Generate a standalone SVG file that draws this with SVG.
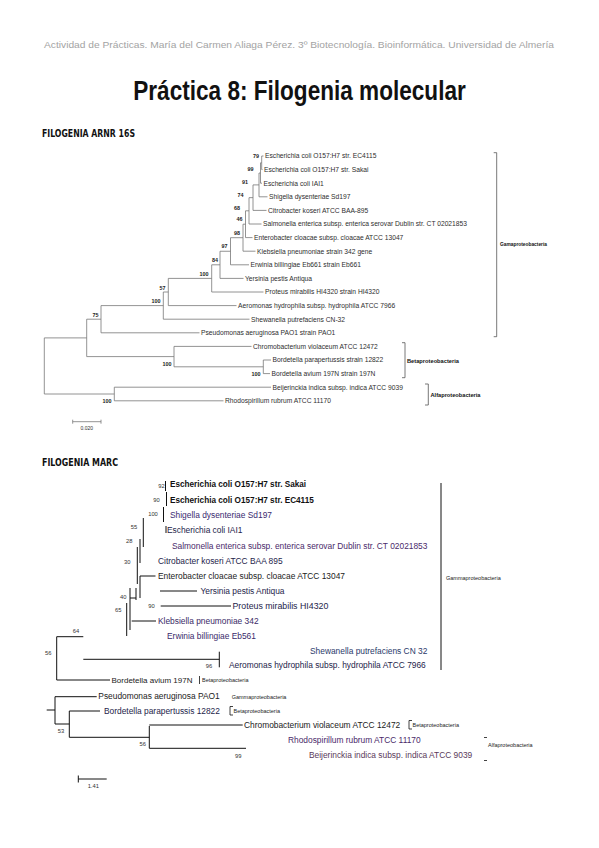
<svg xmlns="http://www.w3.org/2000/svg" width="599" height="848" viewBox="0 0 599 848">
<style>
.hdr{font-family:"Liberation Sans",Arial,sans-serif;font-size:9.2px;fill:#a3a3a3}
.ttl{font-family:"Liberation Sans",Arial,sans-serif;font-weight:bold;font-size:27px;fill:#111}
.sec{font-family:"DejaVu Sans Condensed","DejaVu Sans",sans-serif;font-weight:bold;font-size:10px;fill:#111}
.t1{font-family:"Liberation Sans",Arial,sans-serif;font-size:6.7px;fill:#2e2e2e}
.b1{font-family:"Liberation Sans",Arial,sans-serif;font-size:5.4px;font-weight:bold;fill:#222;text-anchor:middle}
.g1{font-family:"Liberation Sans",Arial,sans-serif;font-size:5px;font-weight:bold;fill:#111}
.br1{fill:none;stroke:#555;stroke-width:0.8}
.e1{fill:none;stroke:#777;stroke-width:0.8}
.t2{font-family:"Liberation Sans",Arial,sans-serif;font-size:8.4px;fill:#24244a}
.t2b{font-family:"Liberation Sans",Arial,sans-serif;font-size:8.2px;fill:#111;font-weight:bold}
.s2{font-family:"Liberation Sans",Arial,sans-serif;font-size:5.8px;fill:#333;text-anchor:middle}
.g2{font-family:"Liberation Sans",Arial,sans-serif;font-size:5.5px;fill:#222}
.e2{fill:none;stroke:#111;stroke-width:1}
</style>

<text class="hdr" x="299" y="48" text-anchor="middle" textLength="510" lengthAdjust="spacingAndGlyphs">Actividad de Prácticas. María del Carmen Aliaga Pérez. 3º Biotecnología. Bioinformática. Universidad de Almería</text>
<text class="ttl" x="0" y="0" text-anchor="middle" transform="translate(299.5,100) scale(0.837,1)">Práctica 8: Filogenia molecular</text>

<text class="sec" x="42" y="137" textLength="93" lengthAdjust="spacingAndGlyphs">FILOGENIA ARNR 16S</text>

<!-- ===== Tree 1 ===== -->
<g id="tree1-connectors">
<path class="e1" d="M261.7,156 V169.6 M261.7,156 H263.5 M261.7,169.6 H262.5
M260.5,162.8 V183.2 M260.5,162.8 H261.7 M260.5,183.2 H262
M259,173 V196.8 M259,173 H260.5 M259,196.8 H267.5
M253,184.9 V210.4 M253,184.9 H259 M253,210.4 H266.5
M249,197.65 V224 M249,197.65 H253 M249,224 H261.5
M245.5,210.8 V237.6 M245.5,210.8 H249 M245.5,237.6 H252.5
M243,224.2 V251.2 M243,224.2 H245.5 M243,251.2 H255.5
M230.5,237.7 V264.8 M230.5,237.7 H243 M230.5,264.8 H249
M220,251.25 V278.4 M220,251.25 H230.5 M220,278.4 H243.5
M211.7,264.8 V292 M211.7,264.8 H220 M211.7,292 H263.5
M168.3,278.4 V305.6 M168.3,278.4 H211.7 M168.3,305.6 H236.5
M163.3,292 V319.2 M163.3,292 H168.3 M163.3,319.2 H249.5
M101,305.6 V332.8 M101,305.6 H163.3 M101,332.8 H199.5
M263.3,360 V373.6 M263.3,360 H271 M263.3,373.6 H270
M174,346.4 V366.8 M174,346.4 H251.5 M174,366.8 H263.3
M86.7,319.2 V356.6 M86.7,319.2 H101 M86.7,356.6 H174
M114.3,387.2 V400.8 M114.3,387.2 H271 M114.3,400.8 H223.5
M44.3,337.9 V394 M44.3,337.9 H86.7 M44.3,394 H114.3"/>
<text class="b1" x="256" y="158">79</text>
<text class="b1" x="250.5" y="171">99</text>
<text class="b1" x="245" y="184">91</text>
<text class="b1" x="240.5" y="197">74</text>
<text class="b1" x="237" y="210">68</text>
<text class="b1" x="239.5" y="221">46</text>
<text class="b1" x="237" y="235">98</text>
<text class="b1" x="224.5" y="248">97</text>
<text class="b1" x="215" y="262">84</text>
<text class="b1" x="204" y="276">100</text>
<text class="b1" x="162.5" y="289.5">57</text>
<text class="b1" x="156" y="302.8">100</text>
<text class="b1" x="95.5" y="317">75</text>
<text class="b1" x="167" y="366">100</text>
<text class="b1" x="256" y="376">100</text>
<text class="b1" x="107" y="403">100</text>
</g>
<g id="tree1-leaves">
<text id="t1-l1" class="t1" x="265" y="158.3">Escherichia coli O157:H7 str. EC4115</text>
<text id="t1-l2" class="t1" x="264" y="171.9">Escherichia coli O157:H7 str. Sakai</text>
<text id="t1-l3" class="t1" x="263.5" y="185.5">Escherichia coli IAI1</text>
<text id="t1-l4" class="t1" x="269" y="199.1">Shigella dysenteriae Sd197</text>
<text id="t1-l5" class="t1" x="268" y="212.7">Citrobacter koseri ATCC BAA-895</text>
<text id="t1-l6" class="t1" x="263" y="226.3">Salmonella enterica subsp. enterica serovar Dublin str. CT 02021853</text>
<text id="t1-l7" class="t1" x="254" y="239.9">Enterobacter cloacae subsp. cloacae ATCC 13047</text>
<text id="t1-l8" class="t1" x="257" y="253.5">Klebsiella pneumoniae strain 342 gene</text>
<text id="t1-l9" class="t1" x="250.5" y="267.1">Erwinia billingiae Eb661 strain Eb661</text>
<text id="t1-l10" class="t1" x="245" y="280.7">Yersinia pestis Antiqua</text>
<text id="t1-l11" class="t1" x="265" y="294.3">Proteus mirabilis HI4320 strain HI4320</text>
<text id="t1-l12" class="t1" x="238" y="307.9">Aeromonas hydrophila subsp. hydrophila ATCC 7966</text>
<text id="t1-l13" class="t1" x="251" y="321.5">Shewanella putrefaciens CN-32</text>
<text id="t1-l14" class="t1" x="201" y="335.1">Pseudomonas aeruginosa PAO1 strain PAO1</text>
<text id="t1-l15" class="t1" x="253" y="348.7">Chromobacterium violaceum ATCC 12472</text>
<text id="t1-l16" class="t1" x="272.5" y="362.3">Bordetella parapertussis strain 12822</text>
<text id="t1-l17" class="t1" x="271.5" y="375.9">Bordetella avium 197N strain 197N</text>
<text id="t1-l18" class="t1" x="272.5" y="389.5">Beijerinckia indica subsp. indica ATCC 9039</text>
<text id="t1-l19" class="t1" x="225" y="403.1">Rhodospirillum rubrum ATCC 11170</text>
</g>
<g id="tree1-groups">
<path class="br1" d="M493.7,152.7 H496.7 V336.7 H493.7"/>
<text class="g1" x="500" y="246" textLength="47" lengthAdjust="spacingAndGlyphs">Gamaproteobacteria</text>
<path class="br1" d="M402,342.7 H405 V377.7 H402"/>
<text class="g1" x="407" y="362.5" textLength="52" lengthAdjust="spacingAndGlyphs">Betaproteobacteria</text>
<path class="br1" d="M425,384 H428.3 V405 H425"/>
<text class="g1" x="430.5" y="396.5" textLength="50" lengthAdjust="spacingAndGlyphs">Alfaproteobacteria</text>
</g>
<g id="tree1-scale">
<path class="e1" d="M72.7,421.7 H101 M72.7,419.7 V423.7 M101,419.7 V423.7"/>
<text class="t1" x="86.8" y="430" text-anchor="middle" style="font-size:5px">0.020</text>
</g>

<text class="sec" x="42" y="466" textLength="76" lengthAdjust="spacingAndGlyphs">FILOGENIA MARC</text>

<!-- ===== Tree 2 ===== -->
<g id="tree2-connectors">
<path class="e2" d="M165.5,481 V491 M166.5,492 V506 M163.5,507 V522 M166,526 V533
M143.3,518 V547 M140,539 V563 M137.3,547 V584
M140,576 H155.5 M140,576 V598 M136,588 V600 M130,598 H136
M130,588 V630 M131.7,621 H156 M126.7,603 V636
M160,591 H197 M160.7,606 H231
M56.7,636.7 H83.3 M56.7,636.7 V680
M83.3,659.3 H219.3 M219.3,651.7 V667.3
M56.7,680 H110
M55,696.7 H96.7 M55,696.7 V724 M46.7,710 H55 M55,724 H69.3
M69.3,711 V737.3 M69.3,711 H100
M69.3,737.3 H149.3 M149.3,726 V748.3 M149.3,725 H242.7 M149.3,748.3 H246"/>
<text class="s2" x="161.5" y="488">92</text>
<text class="s2" x="156.5" y="502">90</text>
<text class="s2" x="153" y="516">100</text>
<text class="s2" x="134" y="529">55</text>
<text class="s2" x="129.3" y="543">28</text>
<text class="s2" x="127.3" y="564">30</text>
<text class="s2" x="123.3" y="599">40</text>
<text class="s2" x="118.3" y="612">65</text>
<text class="s2" x="151.5" y="608">90</text>
<text class="s2" x="76" y="633">64</text>
<text class="s2" x="48.3" y="655">56</text>
<text class="s2" x="209" y="668">96</text>
<text class="s2" x="61" y="733">53</text>
<text class="s2" x="142.7" y="746">56</text>
<text class="s2" x="238.3" y="758">99</text>
</g>
<g id="tree2-leaves">
<text id="t2-l1" class="t2b" x="170" y="487.3">Escherichia coli O157:H7 str. Sakai</text>
<text id="t2-l2" class="t2b" x="170" y="502.8">Escherichia coli O157:H7 str. EC4115</text>
<text id="t2-l3" class="t2" x="170" y="517.8" style="fill:#3a2a70">Shigella dysenteriae Sd197</text>
<text id="t2-l4" class="t2" x="167" y="532.8">Escherichia coli IAI1</text>
<text id="t2-l5" class="t2" x="172" y="548.8" style="fill:#4a2a6a">Salmonella enterica subsp. enterica serovar Dublin str. CT 02021853</text>
<text id="t2-l6" class="t2" x="158" y="563.8">Citrobacter koseri ATCC BAA 895</text>
<text id="t2-l7" class="t2" x="158" y="578.8" style="fill:#222">Enterobacter cloacae subsp. cloacae ATCC 13047</text>
<text id="t2-l8" class="t2" x="200.5" y="593.8">Yersinia pestis Antiqua</text>
<text id="t2-l9" class="t2" x="232.5" y="608.8" style="font-size:8.8px">Proteus mirabilis HI4320</text>
<text id="t2-l10" class="t2" x="158" y="623.8" style="fill:#3a2a66">Klebsiella pneumoniae 342</text>
<text id="t2-l11" class="t2" x="167" y="638.8" style="fill:#3a2a6a">Erwinia billingiae Eb561</text>
<text id="t2-l12" class="t2" x="310" y="653.8" style="fill:#2a3a6a">Shewanella putrefaciens CN 32</text>
<text id="t2-l13" class="t2" x="229" y="668.3">Aeromonas hydrophila subsp. hydrophila ATCC 7966</text>
<text id="t2-l14" class="t2" x="111.5" y="682.8" style="fill:#222;font-size:8px">Bordetella avium 197N</text>
<text id="t2-l15" class="t2" x="98.3" y="699.3" style="fill:#222">Pseudomonas aeruginosa PAO1</text>
<text id="t2-l16" class="t2" x="104" y="713.8">Bordetella parapertussis 12822</text>
<text id="t2-l17" class="t2" x="244" y="727.8" style="fill:#222">Chromobacterium violaceum ATCC 12472</text>
<text id="t2-l18" class="t2" x="288" y="742.8" style="fill:#4a2a6a">Rhodospirillum rubrum ATCC 11170</text>
<text id="t2-l19" class="t2" x="309" y="757.8" style="fill:#5a3a5a">Beijerinckia indica subsp. indica ATCC 9039</text>
</g>
<g id="tree2-groups">
<path class="e2" d="M441,483 V670"/>
<text class="g2" x="446" y="580">Gammaproteobacteria</text>
<path class="e2" style="stroke-width:0.8" d="M199.5,676 V684"/>
<text class="g2" x="202" y="682">Betaproteobacteria</text>
<text class="g2" x="231.7" y="698.5">Gammaproteobacteria</text>
<path class="e2" style="stroke-width:0.8" d="M233,706.5 H230 V715 H233"/>
<text class="g2" x="233.5" y="713">Betaproteobacteria</text>
<path class="e2" style="stroke-width:0.8" d="M412,720.5 H409 V729 H412"/>
<text class="g2" x="412.5" y="727">Betaproteobacteria</text>
<path class="e2" style="stroke-width:0.8" d="M484,737.5 H487 M484,760.5 H487"/>
<text class="g2" x="488" y="747">Alfaproteobacteria</text>
</g>
<g id="tree2-scale">
<path class="e2" d="M78.3,779 H106.7 M78.3,775.5 V782.5"/>
<text class="s2" x="93.3" y="788">1.41</text>
</g>
</svg>
